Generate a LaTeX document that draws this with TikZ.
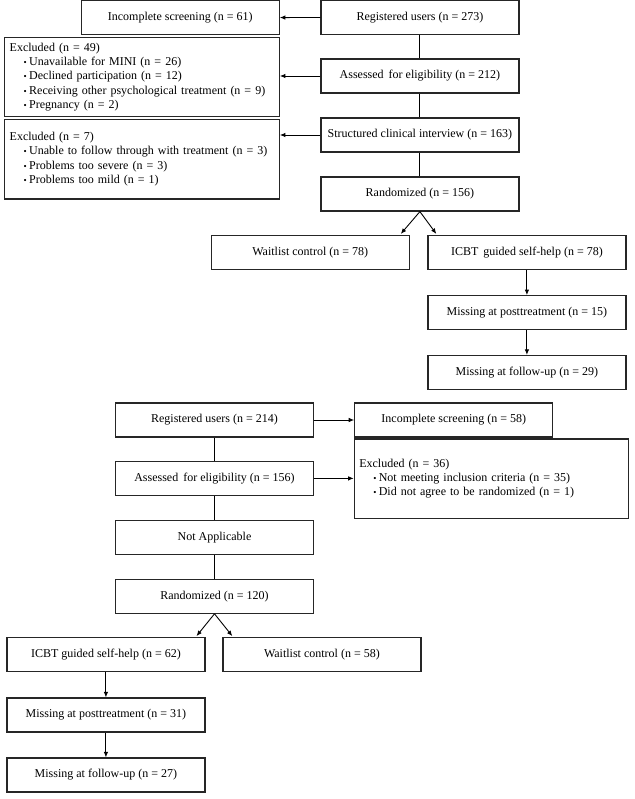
\documentclass[tikz,border=0pt]{standalone}
\usepackage{fontspec}
\setmainfont{Liberation Serif}
\usetikzlibrary{arrows.meta,calc}
\newcommand{\bl}{\par\hspace*{14pt}\makebox[5.5pt][l]{\small •}}
\begin{document}
\begin{tikzpicture}[x=1pt,y=-1pt,
  box/.style={draw=black!85,line width=1.2pt,minimum width=198pt,minimum height=34pt,inner sep=2pt,font=\fontsize{12}{14}\selectfont},
  listbox/.style={draw=black!85,line width=1.2pt,minimum width=274.6pt,minimum height=79.5pt,inner xsep=5pt,inner ysep=2pt,text width=264.6pt,align=left,font=\fontsize{12}{14.3}\selectfont},
  conn/.style={line width=0.9pt},
  arr/.style={line width=0.9pt,-{Latex[length=5.5pt,width=4.5pt]}}]
\useasboundingbox (0,0) rectangle (634,799);
% ---------- top flow ----------
\node[box] (reg273) at (419.9,17.5) {Registered users (n = 273)};
\node[box] (inc61) at (180.2,17.6) {Incomplete screening (n = 61)};
\node[box] (ass212) at (419.9,76) {Assessed\, for eligibility (n = 212)};
\node[listbox] (exc49) at (142,77) {Excluded (n = 49)\bl Unavailable for MINI (n = 26)\bl Declined participation (n = 12)\bl Receiving other psychological treatment (n = 9)\bl Pregnancy (n = 2)};
\node[box] (sci) at (419.9,135) {Structured clinical interview (n = 163)};
\node[listbox] (exc7) at (142,159.2) {Excluded (n = 7)\bl Unable to follow through with treatment (n = 3)\bl Problems too severe (n = 3)\bl Problems too mild (n = 1)};
\node[box] (rand156) at (419.9,194) {Randomized (n = 156)};
\node[box] (wait78) at (310.2,252.5) {Waitlist control (n = 78)};
\node[box] (icbt78) at (526.9,252.5) {ICBT\, guided self-help (n = 78)};
\node[box] (miss15) at (526.9,312.7) {Missing at posttreatment (n = 15)};
\node[box] (fol29) at (526.9,372.5) {Missing at follow-up (n = 29)};
\draw[arr] (reg273) -- (inc61);
\draw[arr] (ass212.west) -- (ass212.west -| exc49.east);
\draw[arr] (sci.west) -- (sci.west -| exc7.east);
\draw[conn] (reg273) -- (ass212);
\draw[conn] (ass212) -- (sci);
\draw[conn] (sci) -- (rand156);
\draw[arr] (rand156.south) -- ($(wait78.north east)+(-9,-1)$);
\draw[arr] (rand156.south) -- ($(icbt78.north west)+(9,-1)$);
\draw[arr] (icbt78) -- (miss15);
\draw[arr] (miss15) -- (fol29);
% ---------- bottom flow ----------
\node[box] (reg214) at (214.5,420) {Registered users (n = 214)};
\node[box] (inc58) at (453.8,420) {Incomplete screening (n = 58)};
\node[box] (ass156) at (214.5,478.4) {Assessed\, for eligibility (n = 156)};
\node[listbox,minimum width=274pt,text width=264pt] (exc36) at (491.3,478.8) {Excluded (n = 36)\bl Not meeting inclusion criteria (n = 35)\bl Did not agree to be randomized (n = 1)};
\node[box] (na) at (214.5,537.4) {Not Applicable};
\node[box] (rand120) at (214.5,596.2) {Randomized (n = 120)};
\node[box] (icbt62) at (105.9,654.7) {ICBT guided self-help (n = 62)};
\node[box] (wait58) at (321.9,654.7) {Waitlist control (n = 58)};
\node[box] (miss31) at (105.9,715) {Missing at posttreatment (n = 31)};
\node[box] (fol27) at (105.9,775) {Missing at follow-up (n = 27)};
\draw[arr] (reg214) -- (inc58);
\draw[arr] (ass156.east) -- (ass156.east -| exc36.west);
\draw[conn] (reg214) -- (ass156);
\draw[conn] (ass156) -- (na);
\draw[conn] (na) -- (rand120);
\draw[arr] (rand120.south) -- ($(icbt62.north east)+(-9,-1)$);
\draw[arr] (rand120.south) -- ($(wait58.north west)+(10,-1)$);
\draw[arr] (icbt62) -- (miss31);
\draw[arr] (miss31) -- (fol27);
\end{tikzpicture}
\end{document}
